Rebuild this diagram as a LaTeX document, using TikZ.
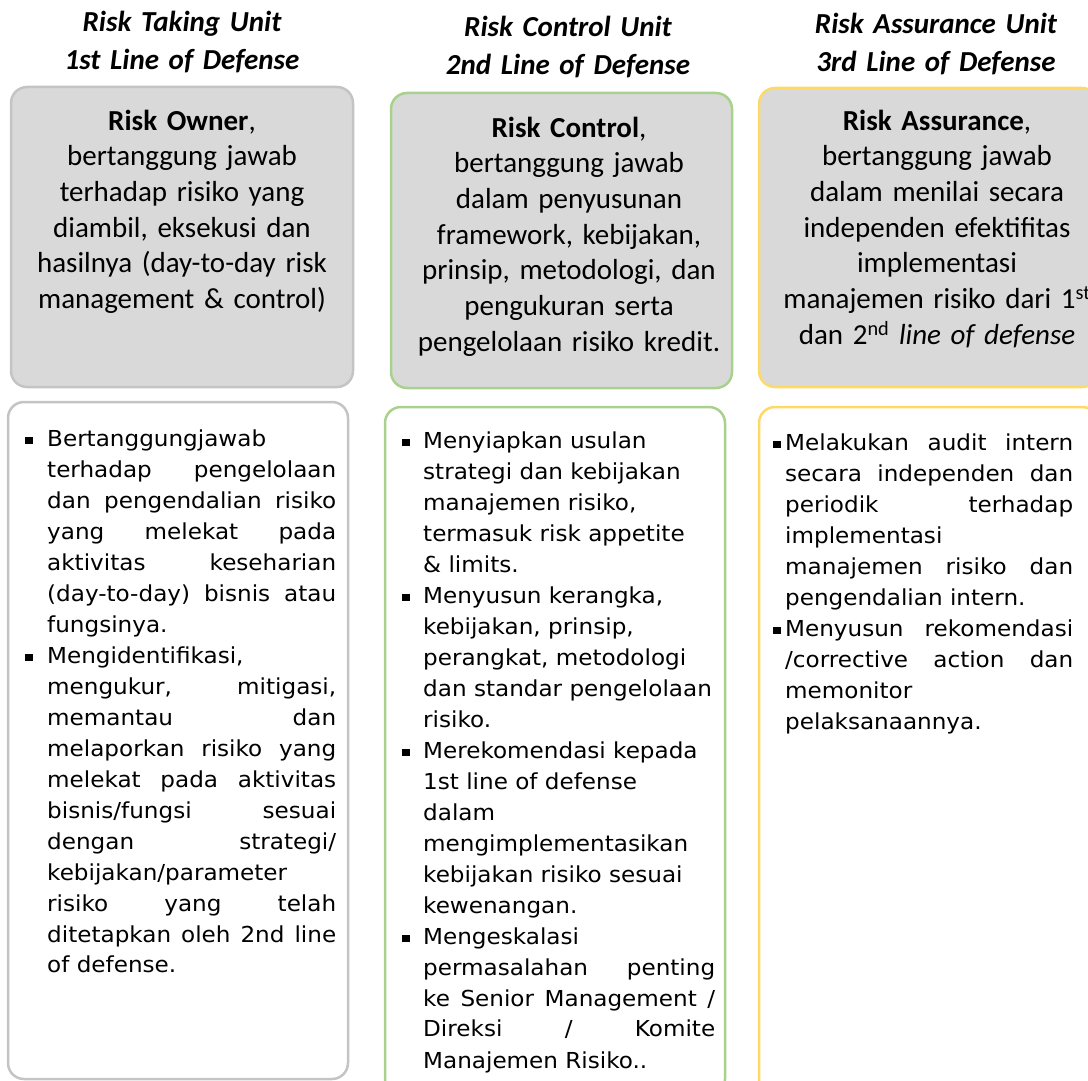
\documentclass[tikz,border=0pt]{standalone}
\usepackage{fontspec}
\setmainfont{Carlito}
\newfontfamily\listfont[FakeStretch=1.05]{DejaVu Sans}
\usetikzlibrary{positioning}

\definecolor{boxgray}{HTML}{D9D9D9}
\definecolor{edgegray}{HTML}{C4C4C4}
\definecolor{edgegreen}{HTML}{A9D18E}
\definecolor{edgegold}{HTML}{FFD966}

\tolerance=10000
\hbadness=10000

% bullet item with hanging indent
\newcommand{\sqbul}[2][22pt]{{\hangindent=#1\hangafter=1\makebox[#1][l]{\rule[2pt]{7.5pt}{7.5pt}}#2\par}}

\tikzset{
    heading/.style={text width=360pt, align=center, inner sep=0pt, anchor=base,
        font=\fontsize{29}{37.5}\selectfont\bfseries\itshape},
    toptext/.style={text width=360pt, align=center, inner sep=0pt, anchor=base,
        font=\fontsize{29}{35.7}\selectfont},
    listtext/.style={align=justify, inner sep=0pt, anchor=base west,
        font=\listfont\fontsize{22}{31}\selectfont},
    topbox/.style={rectangle, rounded corners=16pt, line width=2.5pt, fill=boxgray, inner sep=0pt},
    listbox/.style={rectangle, rounded corners=16pt, line width=2.5pt, fill=white, inner sep=0pt},
}

\begin{document}
\begin{tikzpicture}[x=1pt, y=-1pt]
    \useasboundingbox (0,0) rectangle (1088,1081);
    \clip (0,0) rectangle (1088,1081);

    % Headings
    \node[heading] (takinghead) at (182,32) {Risk Taking Unit\\1st Line of Defense};
    \node[heading] (controlhead) at (568,37) {Risk Control Unit\\2nd Line of Defense};
    \node[heading] (assurehead) at (936,34) {Risk Assurance Unit\\3rd Line of Defense};

    % Upper boxes
    \node[topbox, draw=edgegray, minimum width=342pt, minimum height=300pt] (ownerbox) at (182,237) {};
    \node[topbox, draw=edgegreen, minimum width=341pt, minimum height=295pt] (controlbox) at (561.5,240.5) {};
    \node[topbox, draw=edgegold, minimum width=339pt, minimum height=299pt] (assurebox) at (928.5,237.5) {};

    % Lower boxes
    \node[listbox, draw=edgegray, minimum width=340pt, minimum height=677pt] (ownerlist) at (178,740.5) {};
    \node[listbox, draw=edgegreen, minimum width=340pt, minimum height=688pt] (controllist) at (555,751) {};
    \node[listbox, draw=edgegold, minimum width=339pt, minimum height=688pt] (assurelist) at (928.5,751) {};

    % Roles
    \node[toptext] (ownertext) at (182,130) {\textbf{Risk Owner},\\bertanggung jawab\\terhadap risiko yang\\diambil, eksekusi dan\\hasilnya (day-to-day risk\\management \& control)};
    \node[toptext] (controltext) at (569,137) {\textbf{Risk Control},\\bertanggung jawab\\dalam penyusunan\\framework, kebijakan,\\prinsip, metodologi, dan\\pengukuran serta\\pengelolaan risiko kredit.};
    \node[toptext] (assuretext) at (937,130) {\textbf{Risk Assurance},\\bertanggung jawab\\dalam menilai secara\\independen efektifitas\\implementasi\\manajemen risiko dari 1\textsuperscript{st}\\dan 2\textsuperscript{nd} \textit{line of defense}};

    % Duties
    \node[listtext, text width=311pt] (ownerduty) at (25,446) {%
        \sqbul{Bertanggungjawab\newline terhadap pengelolaan\linebreak dan pengendalian risiko\linebreak yang melekat pada\linebreak aktivitas keseharian\linebreak (day-to-day) bisnis atau\linebreak fungsinya.}%
        \sqbul{Mengidentifikasi,\newline mengukur, mitigasi,\linebreak memantau dan\linebreak melaporkan risiko yang\linebreak melekat pada aktivitas\linebreak bisnis/fungsi sesuai\linebreak dengan strategi/\linebreak kebijakan/parameter\newline risiko yang telah\linebreak ditetapkan oleh 2nd line\linebreak of defense.}};
    \node[listtext, text width=313pt] (controlduty) at (402,448) {%
        \sqbul[21pt]{Menyiapkan usulan\newline strategi dan kebijakan\newline manajemen risiko,\newline termasuk risk appetite\newline \& limits.}%
        \sqbul[21pt]{Menyusun kerangka,\newline kebijakan, prinsip,\newline perangkat, metodologi\newline dan standar pengelolaan\newline risiko.}%
        \sqbul[21pt]{Merekomendasi kepada\newline 1st line of defense\newline dalam\newline mengimplementasikan\newline kebijakan risiko sesuai\newline kewenangan.}%
        \sqbul[21pt]{Mengeskalasi\newline permasalahan penting\linebreak ke Senior Management /\linebreak Direksi / Komite\linebreak Manajemen Risiko..}};
    \node[listtext, text width=300pt] (assureduty) at (773,450) {%
        \sqbul[12pt]{Melakukan audit intern\linebreak secara independen dan\linebreak periodik terhadap\linebreak implementasi\newline manajemen risiko dan\linebreak pengendalian intern.}%
        \sqbul[12pt]{Menyusun rekomendasi\linebreak /corrective action dan\linebreak memonitor\newline pelaksanaannya.}};

\end{tikzpicture}
\end{document}
